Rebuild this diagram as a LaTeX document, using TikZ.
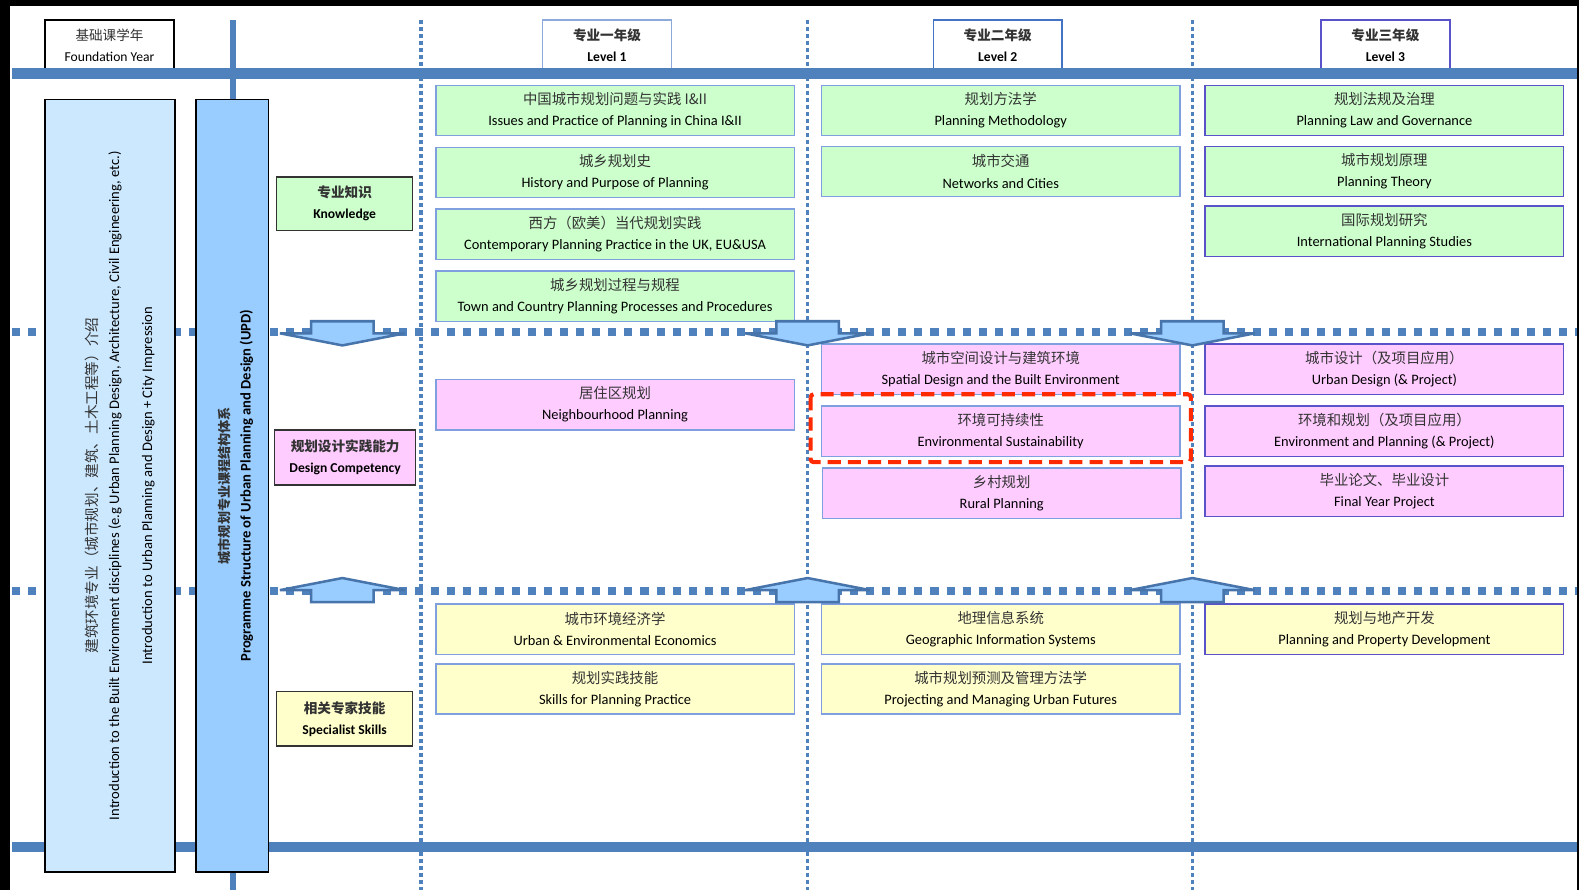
\documentclass[tikz,border=0pt]{standalone}
\usepackage{fontspec}
\setmainfont{Carlito}
\newfontfamily\cjk{Noto Sans CJK SC}
\usetikzlibrary{positioning, calc}
\definecolor{Rail}     {HTML}{4F81BD}
\definecolor{Found}    {HTML}{CCE8FF}
\definecolor{Prog}     {HTML}{99CCFF}
\definecolor{Green}    {HTML}{CCFFCC}
\definecolor{Pink}     {HTML}{FFCCFF}
\definecolor{Yellow}   {HTML}{FFFFCC}
\definecolor{Edge}     {HTML}{7F9FDF}
\definecolor{EdgeDark} {HTML}{5A52C8}
\definecolor{LevelOne} {HTML}{8EAADB}
\definecolor{LevelTwo} {HTML}{4472C4}
\definecolor{Hilite}   {HTML}{FF2A00}
\tikzset{
  course/.style={draw=Edge, line width=1.5pt, anchor=north west, align=center, inner sep=0pt,
                 minimum width=356pt, minimum height=50pt, font=\fontsize{14.3}{21}\selectfont},
  cat/.style={draw=black!80, line width=1.5pt, anchor=north west, align=center, inner sep=0pt,
              minimum width=135pt, minimum height=53pt, font=\fontsize{13.5}{21}\selectfont\bfseries},
  head/.style={draw, fill=white, line width=1.5pt, anchor=north west, align=center, inner sep=0pt,
               minimum width=128pt, minimum height=50pt, font=\fontsize{13.5}{21}\selectfont},
  pillar/.style={draw, line width=1.5pt, anchor=north west, minimum height=767pt},
  vtext/.style={rotate=90, font=\fontsize{14.5}{16}\selectfont},
  rail/.style={Rail, line width=10pt},
  dots/.style={Rail, line width=8pt, dash pattern=on 8pt off 8pt},
  vdots/.style={Rail, line width=3.5pt, dash pattern=on 4pt off 3pt},
  barrow/.style={draw=Rail!90!black, fill=Prog, line width=2.5pt},
  hilite/.style={draw=Hilite, line width=4pt, dash pattern=on 13pt off 7pt, rounded corners=3pt}
}
\newcommand\cn[1]{{\cjk\color{black!80}#1}}
% block arrow on a dotted line: x, y, direction (1 down, -1 up)
\newcommand\flowarrow[3]{%
  \draw[barrow] ({#1-31},{#2-11*(#3)}) -- ++(62,0) -- ++(0,{12*(#3)}) -- ++(31,0)
    -- ({#1},{#2+13*(#3)}) -- ({#1-62},{#2+(#3)}) -- ++(31,0) -- cycle;}

\begin{document}
\begin{tikzpicture}[x=1pt, y=-1pt]
  \useasboundingbox (0,0) rectangle (1568,884);
  \fill[black] (0,0) rectangle (1568,884);
  \fill[white] (10,6) rectangle (1566,884);

  % year headers
  \node[head] (fy) at (44,19) {\cn{基础课学年}\\Foundation Year};
  \node[head, draw=LevelOne, font=\fontsize{13.5}{21}\selectfont\bfseries] (l1) at (538,19)
    {\cn{专业一年级}\\Level 1};
  \node[head, draw=LevelTwo, font=\fontsize{13.5}{21}\selectfont\bfseries] (l2) at (926,19)
    {\cn{专业二年级}\\Level 2};
  \node[head, draw=EdgeDark, font=\fontsize{13.5}{21}\selectfont\bfseries] (l3) at (1311,19)
    {\cn{专业三年级}\\Level 3};

  % grid
  \draw[rail] (12,73) -- (1566,73);
  \draw[rail] (12,841) -- (1566,841);
  \draw[Rail, line width=6pt] (231,20) -- (231,884);
  \foreach \y in {330,587} \draw[dots] (12,\y) -- (1566,\y);
  \foreach \x in {418,802,1184} \draw[vdots] (\x,20) -- (\x,884);

  % left pillars
  \node[pillar, fill=Found, minimum width=129pt] (found) at (44,98) {};
  \node[vtext] (f1) at ($(found.center)+(-18,0)$) {\cn{建筑环境专业（城市规划、建筑、土木工程等）介绍}};
  \node[vtext] (f2) at ($(found.center)+(5,0)$)
    {Introduction to the Built Environment disciplines (e.g Urban Planning Design, Architecture, Civil Engineering, etc.)};
  \node[vtext] (f3) at ($(found.center)+(38,0)$) {Introduction to Urban Planning and Design + City Impression};
  \node[pillar, fill=Prog, minimum width=72pt] (prog) at (194,98) {};
  \node[vtext, font=\fontsize{13}{16}\selectfont\bfseries] (p1) at ($(prog.center)+(-8,0)$)
    {\cn{城市规划专业课程结构体系}};
  \node[vtext, font=\fontsize{14.5}{16}\selectfont\bfseries] (p2) at ($(prog.center)+(14,0)$)
    {Programme Structure of Urban Planning and Design (UPD)};

  % categories
  \node[cat, fill=Green] (know) at (274,175) {\cn{专业知识}\\Knowledge};
  \node[cat, fill=Pink, minimum width=140pt, minimum height=55pt] (design) at (272,426)
    {\cn{规划设计实践能力}\\Design Competency};
  \node[cat, fill=Yellow, minimum height=54pt] (skill) at (274,686) {\cn{相关专家技能}\\Specialist Skills};

  % knowledge courses
  \node[course, fill=Green] (g11) at (432,84) {\cn{中国城市规划问题与实践 I\&II}\\Issues and Practice of Planning in China I\&II};
  \node[course, fill=Green, below=10pt of g11.south west, anchor=north west] (g12) {\cn{城乡规划史}\\History and Purpose of Planning};
  \node[course, fill=Green, below=10pt of g12.south west, anchor=north west] (g13) {\cn{西方（欧美）当代规划实践}\\Contemporary Planning Practice in the UK, EU\&USA};
  \node[course, fill=Green, below=10pt of g13.south west, anchor=north west] (g14) {\cn{城乡规划过程与规程}\\Town and Country Planning Processes and Procedures};
  \node[course, fill=Green] (g21) at (815,84) {\cn{规划方法学}\\Planning Methodology};
  \node[course, fill=Green, below=9pt of g21.south west, anchor=north west] (g22) {\cn{城市交通}\\Networks and Cities};
  \node[course, fill=Green, draw=EdgeDark] (g31) at (1196,84) {\cn{规划法规及治理}\\Planning Law and Governance};
  \node[course, fill=Green, draw=EdgeDark, below=9pt of g31.south west, anchor=north west] (g32) {\cn{城市规划原理}\\Planning Theory};
  \node[course, fill=Green, draw=EdgeDark, below=8pt of g32.south west, anchor=north west] (g33) {\cn{国际规划研究}\\International Planning Studies};

  % design courses
  \node[course, fill=Pink] (p11) at (432,376) {\cn{居住区规划}\\Neighbourhood Planning};
  \node[course, fill=Pink] (p21) at (815,341) {\cn{城市空间设计与建筑环境}\\Spatial Design and the Built Environment};
  \node[course, fill=Pink, below=10pt of p21.south west, anchor=north west] (p22) {\cn{环境可持续性}\\Environmental Sustainability};
  \node[course, fill=Pink, below=10pt of p22.south west, anchor=north west, xshift=1pt] (p23) {\cn{乡村规划}\\Rural Planning};
  \node[course, fill=Pink, draw=EdgeDark] (p31) at (1196,341) {\cn{城市设计（及项目应用）}\\Urban Design (\& Project)};
  \node[course, fill=Pink, draw=EdgeDark, below=10pt of p31.south west, anchor=north west] (p32) {\cn{环境和规划（及项目应用）}\\Environment and Planning (\& Project)};
  \node[course, fill=Pink, draw=EdgeDark, below=8pt of p32.south west, anchor=north west] (p33) {\cn{毕业论文、毕业设计}\\Final Year Project};

  % skills courses
  \node[course, fill=Yellow] (y11) at (432,599) {\cn{城市环境经济学}\\Urban \& Environmental Economics};
  \node[course, fill=Yellow, below=8pt of y11.south west, anchor=north west] (y12) {\cn{规划实践技能}\\Skills for Planning Practice};
  \node[course, fill=Yellow] (y21) at (815,599) {\cn{地理信息系统}\\Geographic Information Systems};
  \node[course, fill=Yellow, below=8pt of y21.south west, anchor=north west] (y22) {\cn{城市规划预测及管理方法学}\\Projecting and Managing Urban Futures};
  \node[course, fill=Yellow, draw=EdgeDark] (y31) at (1196,599) {\cn{规划与地产开发}\\Planning and Property Development};

  % flow arrows
  \foreach \x in {340,802,1184}{\flowarrow{\x}{330}{1}\flowarrow{\x}{587}{-1}}

  \draw[hilite] ($(p22.north west)+(-10,-11)$) rectangle ($(p22.south east)+(10,5)$);
\end{tikzpicture}
\end{document}
